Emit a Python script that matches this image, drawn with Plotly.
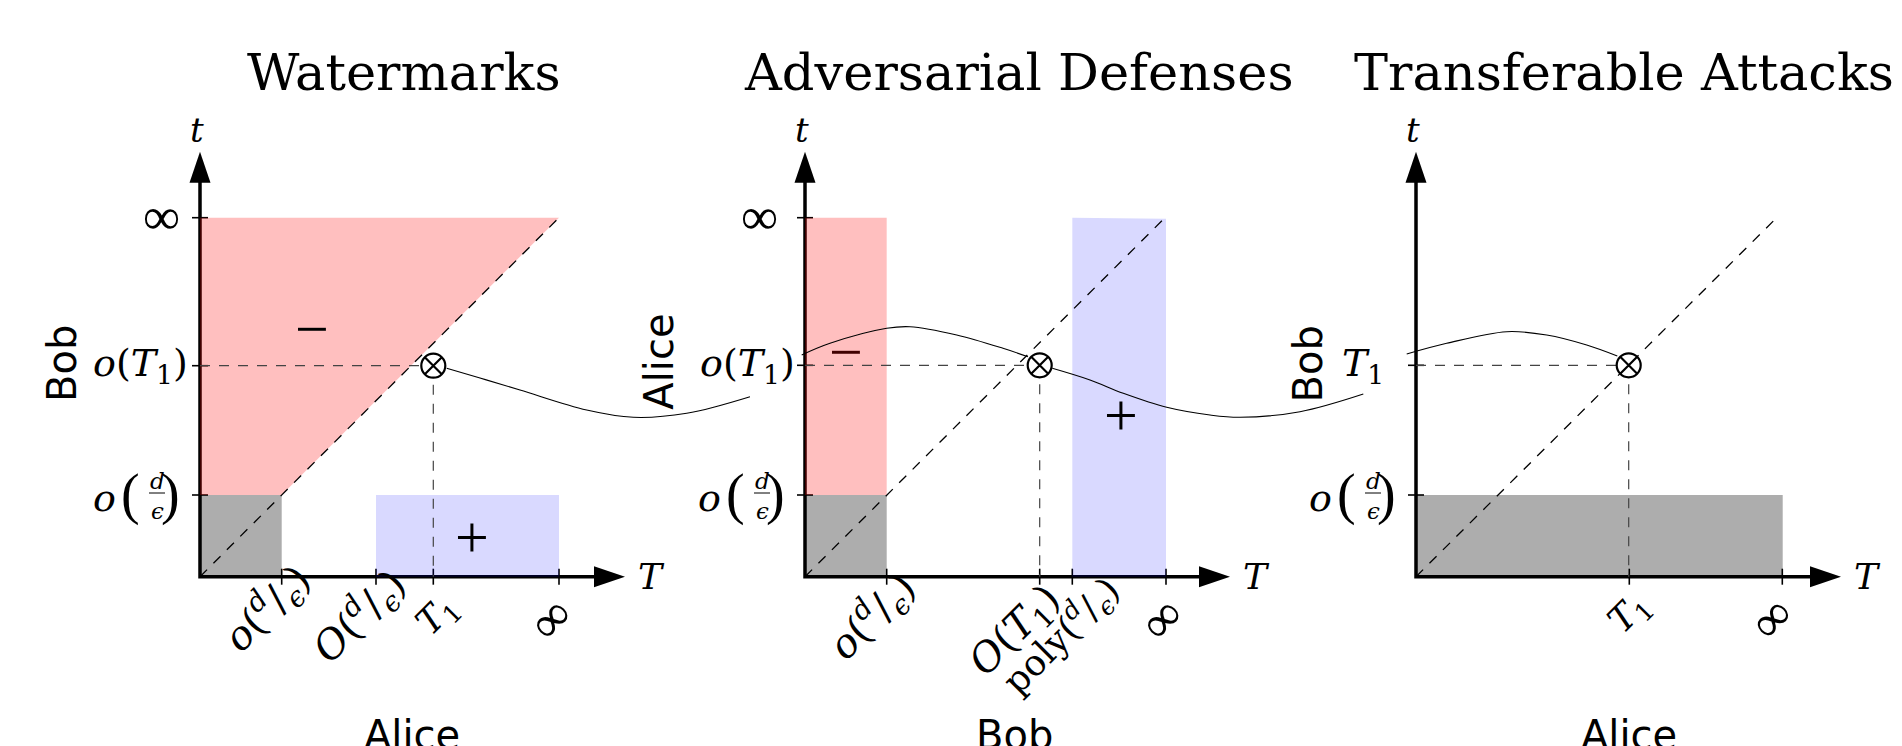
import plotly.graph_objects as go

# ---------------------------------------------------------------- data
# Diagram units: 1 unit = 1 px; each panel's origin is the corner of its axes.
TITLES = ["Watermarks", "Adversarial Defenses", "Transferable Attacks"]
X_NAMES = ["Alice", "Bob", "Alice"]
Y_NAMES = ["Bob", "Alice", "Bob"]

FRAC = "FRAC"  # token: o(d/eps) drawn as a stacked fraction on vertical axes
OD = "<i>o</i>(<sup><i>d</i></sup>/<sub><i>ϵ</i></sub>)"
BIGOD = "<i>O</i>(<sup><i>d</i></sup>/<sub><i>ϵ</i></sub>)"
T1 = "<i>T</i><sub>1</sub>"
OT1 = "<i>o</i>(<i>T</i><sub>1</sub>)"
BIGOT1 = "<i>O</i>(<i>T</i><sub>1</sub>)"
POLY = "poly(<sup><i>d</i></sup>/<sub><i>ϵ</i></sub>)"
INF = "∞"

# panel 1 : Watermarks
p1_xticks = [81.7, 176.0, 233.3, 359.0]
p1_xlabels = [OD, BIGOD, T1, INF]
p1_yticks = [81.7, 211.0, 359.0]
p1_ylabels = [FRAC, OT1, INF]
p1_point = (233.3, 211.0)
p1_red_x = [0.0, 0.0, 359.0, 81.7]
p1_red_y = [81.7, 359.0, 359.0, 81.7]
p1_blue_x = [176.0, 176.0, 359.0, 359.0]
p1_blue_y = [0.0, 81.7, 81.7, 0.0]
p1_gray_x = [0.0, 0.0, 81.7, 81.7]
p1_gray_y = [0.0, 81.7, 81.7, 0.0]
p1_diag = (359.0, 359.0)
p1_signs = [("−", 111.7, 247.4, "black"), ("+", 272.3, 39.4, "black")]

# panel 2 : Adversarial Defenses
p2_xticks = [81.7, 234.7, 267.3, 361.0]
p2_xlabels = [OD, BIGOT1, POLY, INF]
p2_yticks = [81.7, 211.4, 359.0]
p2_ylabels = [FRAC, OT1, INF]
p2_point = (234.7, 211.4)
p2_red_x = [0.0, 0.0, 81.7, 81.7]
p2_red_y = [81.7, 359.0, 359.0, 81.7]
p2_blue_x = [267.3, 267.3, 361.0, 361.0]
p2_blue_y = [0.0, 359.0, 358.0, 0.0]
p2_gray_x = [0.0, 0.0, 81.7, 81.7]
p2_gray_y = [0.0, 81.7, 81.7, 0.0]
p2_diag = (359.0, 358.0)
p2_signs = [("−", 40.7, 224.7, "#400000"), ("+", 316.0, 161.7, "black")]

# panel 3 : Transferable Attacks
p3_xticks = [213.3, 366.3]
p3_xlabels = [T1, INF]
p3_yticks = [81.7, 211.4]
p3_ylabels = [FRAC, T1]
p3_point = (212.7, 211.4)
p3_gray_x = [0.0, 0.0, 366.7, 366.7]
p3_gray_y = [0.0, 81.7, 81.7, 0.0]
p3_diag = (360.7, 359.0)

# connecting curves (global x, y above the common baseline)
curve1a_x = [446.7, 480.0, 520.0, 586.7, 633.3, 686.7, 750.0]
curve1a_y = [208.4, 198.7, 186.7, 166.7, 159.4, 163.4, 180.0]
curve1b_x = [801.7, 830.0, 886.7, 910.0, 956.7, 1003.0, 1028.0]
curve1b_y = [221.7, 233.4, 248.4, 250.0, 241.7, 228.4, 220.0]
curve2a_x = [1052.3, 1090.0, 1123.3, 1166.7, 1210.0, 1240.0, 1300.0, 1363.3]
curve2a_y = [208.4, 196.7, 183.4, 169.4, 161.7, 159.4, 165.0, 182.7]
curve2b_x = [1406.7, 1446.7, 1506.7, 1546.7, 1586.7, 1617.3]
curve2b_y = [222.7, 233.4, 245.0, 241.7, 231.7, 220.7]

# ---------------------------------------------------------------- layout constants
W, H = 1902, 746
PAGE_MARGIN = 8          # default body margin of the html page
BASE_ROW = 576.7
PANEL_X0 = [200.0, 805.0, 1416.0]
AXIS_LEN = 425.0
ARROW_LEN, ARROW_HALF = 31.0, 10.5
TICK_HALF = 8.0
MATH = "DejaVu Serif"
SANS = "DejaVu Sans"
RED = "rgba(255,0,0,0.25)"
BLUE = "rgba(0,0,255,0.15)"
GRAY = "#adadad"
DASH = "10px,9px"

# per-panel label placement styles (offset of the rotated label box from its tick)
XLAB_OFF = [[(45, -28), (46, -23), (38, 6), (28, 6)],
            [(45, -20), (37, -5), (62, -14), (32, 6)],
            [(34, 4), (25, 6)]]
YLAB_GAP = [[18, 10, 18], [18, 8, 25], [18, 30]]
TITLE_CX = [204, 214, 208]
YNAME_X = [-138, -146, -108.5]
YNAME_Y = [212.7, 215.0, 212.7]
XNAME_CX = [211.7, 209.0, 213.0]

panels = [
    dict(xt=p1_xticks, xl=p1_xlabels, yt=p1_yticks, yl=p1_ylabels, pt=p1_point,
         fills=[(p1_red_x, p1_red_y, RED), (p1_blue_x, p1_blue_y, BLUE)],
         gray=(p1_gray_x, p1_gray_y), diag=p1_diag, signs=p1_signs),
    dict(xt=p2_xticks, xl=p2_xlabels, yt=p2_yticks, yl=p2_ylabels, pt=p2_point,
         fills=[(p2_red_x, p2_red_y, RED), (p2_blue_x, p2_blue_y, BLUE)],
         gray=(p2_gray_x, p2_gray_y), diag=p2_diag, signs=p2_signs),
    dict(xt=p3_xticks, xl=p3_xlabels, yt=p3_yticks, yl=p3_ylabels, pt=p3_point,
         fills=[], gray=(p3_gray_x, p3_gray_y), diag=p3_diag, signs=[]),
]

fig = go.Figure()
ann = []


def add_poly(xs, ys, color):
    fig.add_trace(go.Scatter(x=list(xs) + [xs[0]], y=list(ys) + [ys[0]], mode="lines",
                             fill="toself", fillcolor=color, line=dict(width=0),
                             hoverinfo="skip", showlegend=False))


def add_line(xs, ys, width=1.0, color="black", dash="solid", shape="linear"):
    fig.add_trace(go.Scatter(x=xs, y=ys, mode="lines",
                             line=dict(width=width, color=color, dash=dash, shape=shape,
                                       smoothing=1.0),
                             hoverinfo="skip", showlegend=False))


def text(x, y, s, size, family=MATH, xa="center", ya="middle", angle=0, color="black"):
    ann.append(dict(x=x, y=y, xref="x", yref="y", text=s, showarrow=False,
                    xanchor=xa, yanchor=ya, textangle=angle,
                    font=dict(family=family, size=size, color=color)))


def frac_label(xr, yc):
    text(xr, yc + 1, ")", 56, family="Liberation Serif", xa="right")
    text(xr - 40, yc + 1, "(", 56, family="Liberation Serif", xa="right")
    text(xr - 64, yc - 3, "<i>o</i>", 38, xa="right")
    text(xr - 25, yc + 14, "<i>d</i>", 23)
    text(xr - 25, yc - 16, "<i>ϵ</i>", 23)
    add_line([xr - 33, xr - 17], [yc + 2, yc + 2], width=1.0)


# 1) gray regions (under the axes)
for i, p in enumerate(panels):
    x0 = PANEL_X0[i]
    gx, gy = p["gray"]
    add_poly([x0 + v for v in gx], gy, GRAY)

# 2) axes, arrows, ticks
for i, p in enumerate(panels):
    x0 = PANEL_X0[i]
    end = AXIS_LEN - ARROW_LEN + 2
    add_line([x0, x0, x0 + end], [end, 0, 0], width=3.5)
    add_poly([x0 + AXIS_LEN, x0 + AXIS_LEN - ARROW_LEN, x0 + AXIS_LEN - ARROW_LEN],
             [0, ARROW_HALF, -ARROW_HALF], "black")
    add_poly([x0, x0 - ARROW_HALF, x0 + ARROW_HALF],
             [AXIS_LEN, AXIS_LEN - ARROW_LEN, AXIS_LEN - ARROW_LEN], "black")
    for t in p["xt"]:
        add_line([x0 + t, x0 + t], [-TICK_HALF, TICK_HALF], width=1.6)
    for t in p["yt"]:
        add_line([x0 - TICK_HALF, x0 + TICK_HALF], [t, t], width=1.6)

# 3) translucent regions
for i, p in enumerate(panels):
    x0 = PANEL_X0[i]
    for fx, fy, col in p["fills"]:
        add_poly([x0 + v for v in fx], fy, col)

# 4) dashed guides
for i, p in enumerate(panels):
    x0 = PANEL_X0[i]
    px, py = p["pt"]
    add_line([x0, x0 + p["diag"][0]], [0, p["diag"][1]], width=1.3, dash=DASH)
    add_line([x0, x0 + px], [py, py], width=1.2, color="#444444", dash=DASH)
    add_line([x0 + px, x0 + px], [py, 0], width=1.2, color="#444444", dash=DASH)

# 5) connecting curves
add_line(curve1a_x, curve1a_y, width=1.1, shape="spline")
add_line(curve1b_x, curve1b_y, width=1.1, shape="spline")
add_line(curve2a_x, curve2a_y, width=1.1, shape="spline")
add_line(curve2b_x, curve2b_y, width=1.1, shape="spline")

# 6) crossing points
fig.add_trace(go.Scatter(x=[PANEL_X0[i] + p["pt"][0] for i, p in enumerate(panels)],
                         y=[p["pt"][1] for p in panels], mode="markers",
                         marker=dict(symbol="circle-x", size=24, color="white",
                                     line=dict(color="black", width=2.2)),
                         hoverinfo="skip", showlegend=False))

# 7) texts
for i, p in enumerate(panels):
    x0 = PANEL_X0[i]
    text(x0 + TITLE_CX[i], 576.7 - 72, TITLES[i], 51)
    text(x0 - 3.5, 446.9, "<i>t</i>", 34)
    text(x0 + 451.4, 0, "<i>T</i>", 36)
    text(x0 + YNAME_X[i], YNAME_Y[i], Y_NAMES[i], 40, family=SANS, angle=-90)
    text(x0 + XNAME_CX[i], -133, X_NAMES[i], 40, family=SANS, ya="top")
    for (t, lab), gap in zip(zip(p["yt"], p["yl"]), YLAB_GAP[i]):
        if lab == FRAC:
            frac_label(x0 - gap, t)
        elif lab == INF:
            text(x0 - gap, t + 1, lab, 52, family="Liberation Serif", xa="right")
        else:
            text(x0 - gap, t, lab, 38, xa="right")
    for (t, lab), (dx, dy) in zip(zip(p["xt"], p["xl"]), XLAB_OFF[i]):
        if lab == INF:
            text(x0 + t + dx, -dy, lab, 52, family="Liberation Serif",
                 xa="right", ya="top", angle=-45)
        else:
            size = 36 if lab == T1 else (36 if lab == POLY else 40)
            text(x0 + t + dx, -dy, lab, size, xa="right", ya="top", angle=-45)
    for s, sx, sy, col in p["signs"]:
        text(x0 + sx, sy, s, 60, family="Liberation Serif", color=col)

fig.update_layout(
    width=W, height=H, margin=dict(l=0, r=0, t=0, b=0),
    paper_bgcolor="white", plot_bgcolor="white", showlegend=False,
    xaxis=dict(range=[PAGE_MARGIN, W + PAGE_MARGIN], visible=False, fixedrange=True),
    yaxis=dict(range=[BASE_ROW - PAGE_MARGIN - H, BASE_ROW - PAGE_MARGIN],
               visible=False, fixedrange=True),
    annotations=ann,
)
fig.write_html("out.html")
